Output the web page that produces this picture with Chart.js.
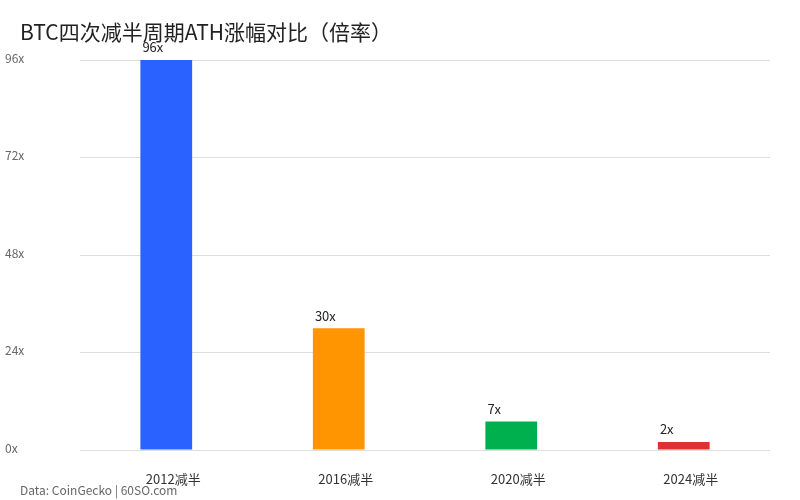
<!DOCTYPE html>
<html>
<head>
<meta charset="utf-8">
<script src="https://cdn.jsdelivr.net/npm/chart.js@4"></script>
<style>
  html, body { margin: 0; padding: 0; background: #fff; }
  #wrap { width: 800px; height: 500px; }
</style>
</head>
<body>
<div id="wrap"><canvas id="chart" width="800" height="500"></canvas></div>
<script>
const halvings = ['2012减半', '2016减半', '2020减半', '2024减半'];
const athMultiple = [96, 30, 7, 2];
const yTicks = [0, 24, 48, 72, 96];

const barColors = ['#2962ff', '#ff9500', '#00b04f', '#e03131'];
const fontFamily = "'Noto Sans CJK SC', 'Noto Sans', sans-serif";

// title, footer and value labels drawn straight onto the canvas
const textPlugin = {
   id: 'texts',
   afterDatasetsDraw(chart) {
       const ctx = chart.ctx;
       ctx.save();
       ctx.textAlign = 'left';

       ctx.fillStyle = '#222';
       ctx.font = '21px ' + fontFamily;
       ctx.textBaseline = 'middle';
       ctx.fillText('BTC四次减半周期ATH涨幅对比（倍率）', 20, 32);

       ctx.fillStyle = '#666';
       ctx.font = '12px ' + fontFamily;
       ctx.fillText('Data: CoinGecko | 60SO.com', 20, 490);

       ctx.fillStyle = '#222';
       ctx.font = '13px ' + fontFamily;
       ctx.textBaseline = 'bottom';
       chart.getDatasetMeta(0).data.forEach((bar, i) => {
           ctx.fillText(athMultiple[i] + 'x', bar.x - bar.width / 2 + 2, bar.y - 6);
       });
       ctx.restore();
   }
};

new Chart(document.querySelector('#chart').getContext('2d'), {
   type: 'bar',
   data: {
       labels: halvings,
       datasets: [{
           data: athMultiple,
           backgroundColor: barColors,
           barPercentage: 0.3,
           categoryPercentage: 1
       }]
   },
   options: {
       responsive: false,
       animation: false,
       layout: { padding: { top: 60, left: 5, right: 30, bottom: 0 } },
       plugins: {
           legend: { display: false },
           tooltip: { enabled: false }
       },
       scales: {
           x: {
               grid: { display: false },
               border: { display: false },
               ticks: {
                   color: '#333',
                   font: { family: fontFamily, size: 13 },
                   padding: 13,
                   labelOffset: 7
               },
               afterFit(scale) { scale.height = 50; }
           },
           y: {
               min: 0,
               max: 96,
               afterBuildTicks(scale) { scale.ticks = yTicks.map(v => ({ value: v })); },
               grid: { color: '#dddddd', drawTicks: false },
               border: { display: false },
               ticks: {
                   color: '#666',
                   crossAlign: 'far',
                   labelOffset: -2,
                   font: { family: fontFamily, size: 12 },
                   callback: v => v + 'x'
               },
               afterFit(scale) { scale.width = 75; }
           }
       }
   },
   plugins: [textPlugin]
});
</script>
</body>
</html>
